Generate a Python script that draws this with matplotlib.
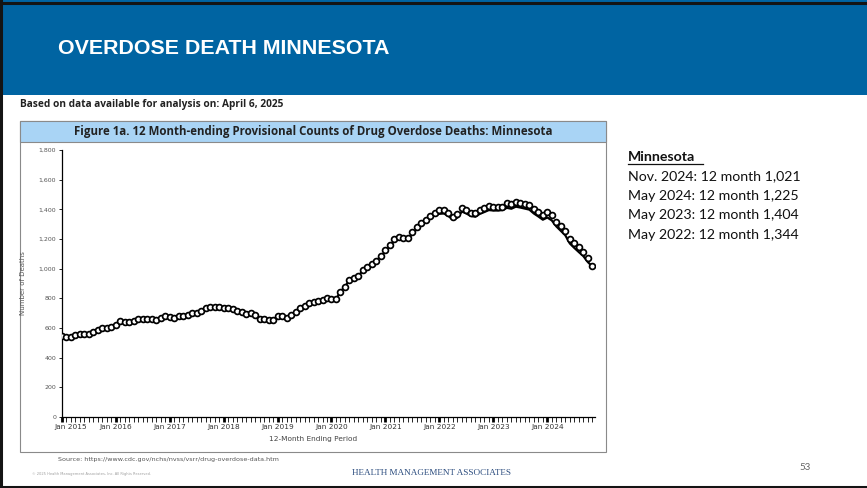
import matplotlib.pyplot as plt
import matplotlib.patches as mpatches
import matplotlib.transforms as mtransforms
import numpy as np

W, H = 867, 488

# 12-month ending counts, monthly from Jan 2015 to Nov 2024
reported = [545, 538, 540, 553, 562, 557, 560, 575, 588, 598, 600, 605,
            620, 645, 642, 643, 648, 663, 662, 662, 660, 652, 670, 678,
            672, 668, 678, 683, 688, 698, 700, 712, 735, 742, 742, 742,
            735, 735, 728, 715, 708, 695, 700, 690, 660, 658, 657, 655,
            680, 678, 665, 690, 710, 733, 748, 767, 777, 785, 790, 805,
            798, 793, 845, 879, 924, 935, 950, 990, 1010, 1030, 1055, 1085,
            1125, 1160, 1200, 1212, 1208, 1205, 1250, 1279, 1306, 1328, 1355, 1378,
            1396, 1396, 1378, 1351, 1369, 1411, 1396, 1378, 1373, 1396, 1407, 1423,
            1418, 1418, 1418, 1441, 1436, 1447, 1441, 1434, 1430, 1400, 1384, 1362,
            1384, 1362, 1317, 1288, 1257, 1198, 1171, 1144, 1115, 1070, 1021]
predicted = [545, 538, 540, 553, 562, 557, 560, 575, 588, 598, 600, 605,
             620, 645, 642, 643, 648, 663, 662, 662, 660, 652, 670, 678,
             672, 668, 678, 683, 688, 698, 700, 712, 735, 742, 742, 742,
             735, 735, 728, 715, 708, 695, 700, 690, 660, 658, 657, 655,
             680, 678, 665, 690, 710, 733, 748, 767, 777, 785, 790, 805,
             798, 793, 845, 879, 924, 935, 950, 990, 1010, 1030, 1055, 1085,
             1115, 1150, 1190, 1202, 1198, 1195, 1238, 1266, 1292, 1315, 1340, 1362,
             1370, 1372, 1355, 1330, 1344, 1385, 1372, 1355, 1350, 1370, 1382, 1395,
             1392, 1392, 1395, 1410, 1404, 1418, 1412, 1405, 1398, 1372, 1352, 1330,
             1345, 1325, 1285, 1255, 1225, 1170, 1140, 1112, 1085, 1045, 1015]
years = ['2015', '2016', '2017', '2018', '2019', '2020', '2021', '2022', '2023', '2024']
yticks = [0, 200, 400, 600, 800, 1000, 1200, 1400, 1600, 1800]
notes = ['Nov. 2024: 12 month 1,021', 'May 2024: 12 month 1,225',
         'May 2023: 12 month 1,404', 'May 2022: 12 month 1,344']

months = np.arange(len(reported))


def fx(x):
    return x / W


def fy(y):
    return 1 - y / H


def rect(x0, y0, x1, y1, zorder=-5, **kw):
    fig.patches.append(mpatches.Rectangle((fx(x0), fy(y1)), fx(x1) - fx(x0), fy(y0) - fy(y1),
                                          transform=fig.transFigure, zorder=zorder, **kw))


fig = plt.figure(figsize=(W / 100, H / 100), dpi=100)

# slide header
rect(0, 0, W, 95, facecolor='#0064A2', edgecolor='none')
fig.text(fx(58), fy(48), 'OVERDOSE DEATH MINNESOTA', color='white', fontsize=15.4,
         fontweight='bold', family='Liberation Sans', va='center')

fig.text(fx(20), fy(105), 'Based on data available for analysis on: April 6, 2025',
         fontsize=7.3, fontweight='bold', family='Open Sans', color='#222222', va='center')

# chart panel
rect(20, 121, 606, 452, facecolor='white', edgecolor='#8a8a8a', linewidth=0.8)
rect(20, 121, 606, 142, facecolor='#A9D4F5', edgecolor='#8a8a8a', linewidth=0.8)
fig.text(fx(313), fy(131.5), 'Figure 1a. 12 Month-ending Provisional Counts of Drug Overdose Deaths: Minnesota',
         fontsize=8.3, fontweight='bold', family='Open Sans', color='#222222', ha='center', va='center')

ax = fig.add_axes([fx(61.7), fy(417), fx(595) - fx(61.7), fy(150) - fy(417)])
ax.patch.set_alpha(0)
ax.plot(months, predicted, color='black', linewidth=1.6, zorder=2)
ax.plot(months, reported, linestyle='none', marker='o', markersize=4.2,
        markerfacecolor='white', markeredgecolor='black', markeredgewidth=1.25, zorder=3)
ax.set_xlim(0, 118.6)
ax.set_ylim(0, 1800)
for s in ['top', 'right']:
    ax.spines[s].set_visible(False)
for s in ['left', 'bottom']:
    ax.spines[s].set_linewidth(0.9)
ax.set_yticks(yticks)
ax.set_yticklabels([f'{v:,}' for v in yticks])
ax.tick_params(axis='y', labelsize=4.5, labelcolor='#555555', length=2.5, width=0.6, pad=1.5)
ax.set_xticks(np.arange(0, len(reported), 12))
ax.set_xticklabels(['Jan ' + y for y in years])
ax.set_xticks(months, minor=True)
ax.tick_params(axis='x', which='major', length=3.5, width=2, labelsize=5.3,
               labelcolor='#333333', pad=1.5)
ax.tick_params(axis='x', which='minor', length=3.5, width=0.6)
lab0 = ax.get_xticklabels()[0]
lab0.set_transform(lab0.get_transform() + mtransforms.ScaledTranslation(9 / 100, 0, fig.dpi_scale_trans))
ax.set_ylabel('Number of Deaths', fontsize=5, color='#555555', labelpad=9)
fig.text(fx(313), fy(439), '12-Month Ending Period', fontsize=5.3, color='#444444',
         ha='center', va='center')

fig.text(fx(58), fy(459), 'Source: https://www.cdc.gov/nchs/nvss/vsrr/drug-overdose-data.htm',
         fontsize=4.6, color='#555555', family='Liberation Sans Narrow', va='center')

# right-hand notes
fig.text(fx(628), fy(157), 'Minnesota', fontsize=10.2, fontweight='bold', family='Lato',
         color='#111111', va='center')
fig.lines.append(plt.Line2D([fx(628), fx(703)], [fy(164), fy(164)], color='#111111',
                            linewidth=0.9, transform=fig.transFigure))
for i, t in enumerate(notes):
    fig.text(fx(628), fy(176 + 19.7 * i), t, fontsize=10.2, family='Lato', color='#111111', va='center')

# footer
fig.text(fx(32), fy(474), '\u00a9 2025 Health Management Associates, Inc. All Rights Reserved.',
         fontsize=2.6, color='#a0a0a0', va='center')
fig.text(fx(431), fy(473), 'HEALTH MANAGEMENT ASSOCIATES', fontsize=6.6, family='Liberation Serif',
         color='#2B4C7E', ha='center', va='center')
fig.text(fx(799), fy(467), '53', fontsize=7, color='#666666', family='Lato', va='center')

# slide frame (top, left, bottom)
for xs, ys in [([0, W], [2.5, 2.5]), ([1.2, 1.2], [0, H]), ([0, W], [486.5, 486.5])]:
    fig.lines.append(plt.Line2D([fx(v) for v in xs], [fy(v) for v in ys], color='#141414',
                                linewidth=2.2, transform=fig.transFigure, zorder=10))

fig.savefig('out.png', dpi=100)
